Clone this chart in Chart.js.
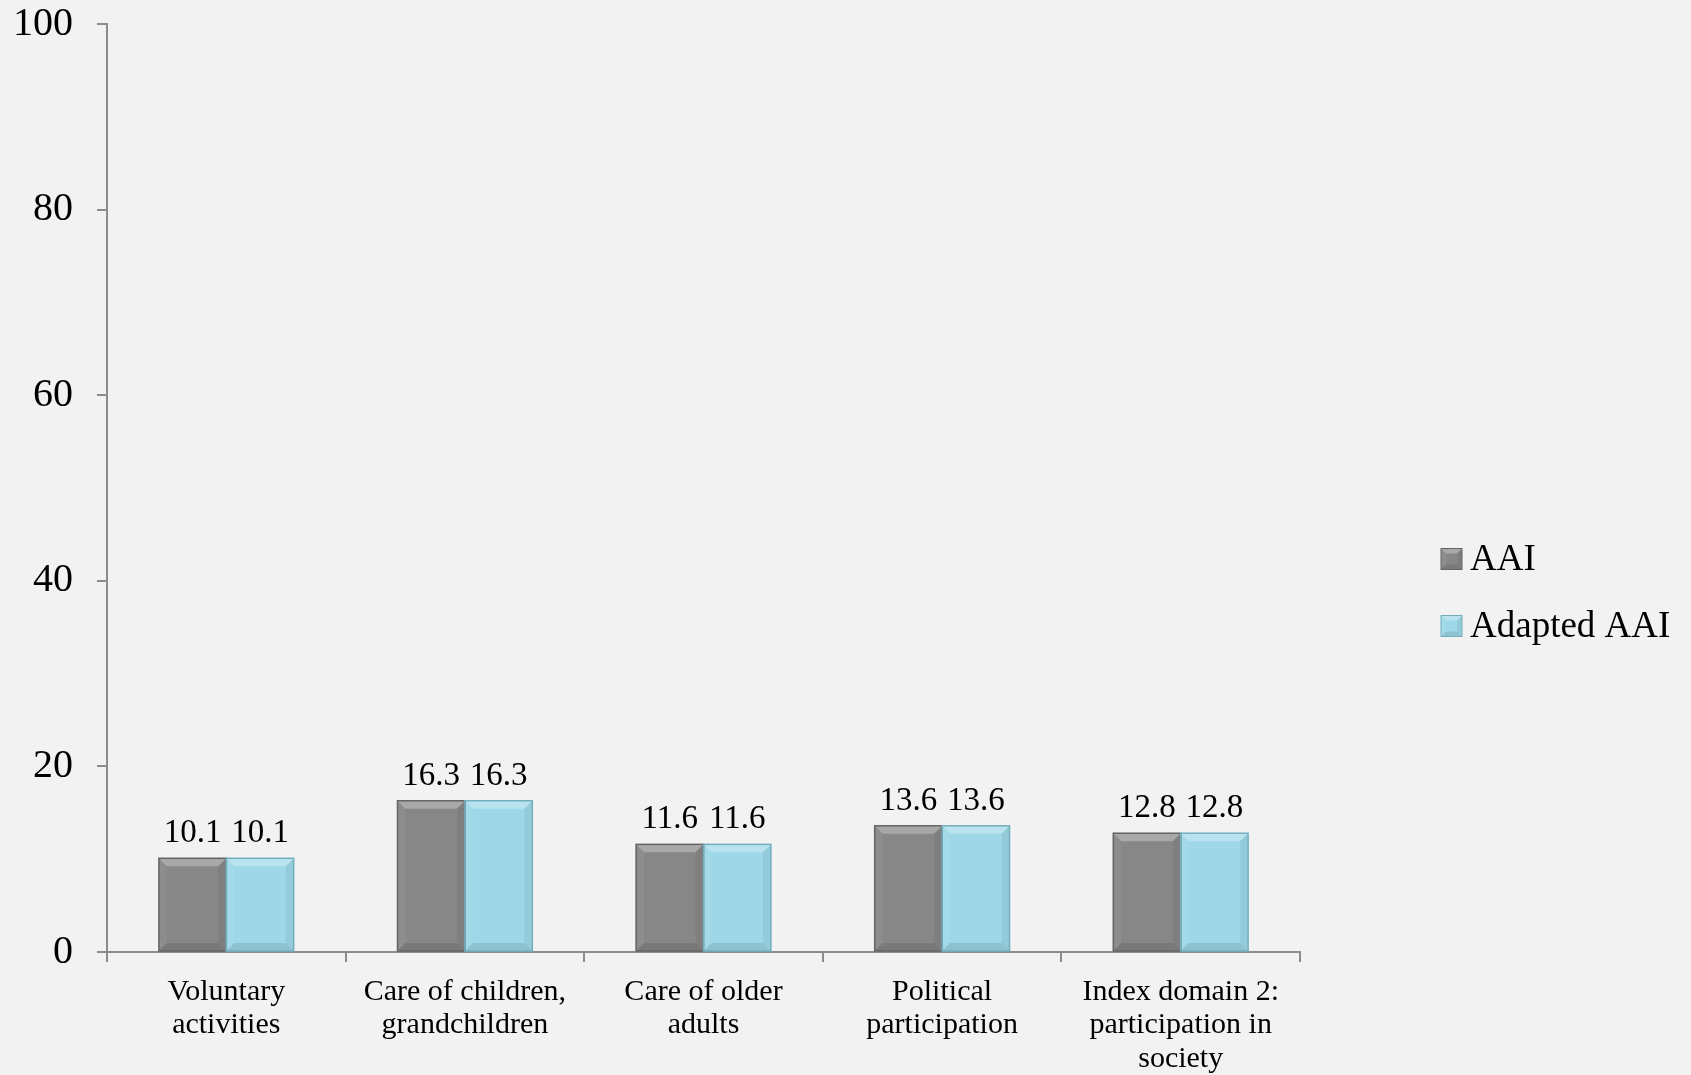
<!DOCTYPE html>
<html>
<head>
<meta charset="utf-8">
<script src="https://cdn.jsdelivr.net/npm/chart.js@4"></script>
<style>
  html, body { margin: 0; padding: 0; background: #f2f2f2; }
  #wrap { width: 1691px; height: 1075px; }
</style>
</head>
<body>
<div id="wrap"><canvas id="chart" width="1691" height="1075"></canvas></div>
<script>
// data
const categories = [
  ["Voluntary", "activities"],
  ["Care of children,", "grandchildren"],
  ["Care of older", "adults"],
  ["Political", "participation"],
  ["Index domain 2:", "participation in", "society"]
];
const seriesNames = ["AAI", "Adapted AAI"];
const aaiValues = [10.1, 16.3, 11.6, 13.6, 12.8];
const adaptedValues = [10.1, 16.3, 11.6, 13.6, 12.8];
const yMax = 100;
const yStep = 20;

const fillColors = ["#878787", "#9ed8e8"];
const edgeColors = ["#646464", "#74aebe"];
const serif = '"Liberation Serif", "DejaVu Serif", serif';
const axisGray = "#8c8c8c";

function poly(ctx, pts, color) {
  ctx.beginPath();
  ctx.moveTo(pts[0][0], pts[0][1]);
  for (let k = 1; k < pts.length; k++) ctx.lineTo(pts[k][0], pts[k][1]);
  ctx.closePath();
  ctx.fillStyle = color;
  ctx.fill();
}

function bevel(ctx, l, t, r, b, bv) {
  poly(ctx, [[l, t], [r, t], [r - bv, t + bv], [l + bv, t + bv]], "rgba(255,255,255,0.28)");
  poly(ctx, [[l, b], [r, b], [r - bv, b - bv], [l + bv, b - bv]], "rgba(0,0,0,0.10)");
  poly(ctx, [[l, t], [l + bv, t + bv], [l + bv, b - bv], [l, b]], "rgba(255,255,255,0.05)");
  poly(ctx, [[r, t], [r - bv, t + bv], [r - bv, b - bv], [r, b]], "rgba(0,0,0,0.06)");
}

// bevels + value labels on top of bars, legend on the right
const barExtras = {
  id: "barExtras",
  afterDatasetsDraw(chart) {
    const ctx = chart.ctx;
    ctx.save();
    chart.data.datasets.forEach((ds, i) => {
      const meta = chart.getDatasetMeta(i);
      meta.data.forEach((bar, j) => {
        const p = bar.getProps(["x", "y", "base", "width"], true);
        const l = p.x - p.width / 2, r = p.x + p.width / 2;
        bevel(ctx, l, p.y, r, p.base, 8);
        ctx.strokeStyle = edgeColors[i];
        ctx.lineWidth = 1.5;
        ctx.strokeRect(l, p.y, p.width, p.base - p.y);
        ctx.fillStyle = "#000";
        ctx.font = "33px " + serif;
        ctx.textAlign = "center";
        ctx.textBaseline = "alphabetic";
        ctx.fillText(ds.data[j].toFixed(1), p.x, p.y - 16);
      });
    });
    ctx.restore();
  },
  afterDraw(chart) {
    const ctx = chart.ctx;
    ctx.save();
    const boxX = 1441, box = 21, textX = 1470;
    const rowY = [559, 626];
    chart.data.datasets.forEach((ds, i) => {
      const cy = rowY[i];
      ctx.fillStyle = fillColors[i];
      ctx.fillRect(boxX, cy - box / 2, box, box);
      bevel(ctx, boxX, cy - box / 2, boxX + box, cy + box / 2, 5);
      ctx.strokeStyle = edgeColors[i];
      ctx.lineWidth = 1;
      ctx.strokeRect(boxX, cy - box / 2, box, box);
      ctx.fillStyle = "#000";
      ctx.font = "37px " + serif;
      ctx.textAlign = "left";
      ctx.textBaseline = "middle";
      ctx.fillText(ds.label, textX, cy + 1);
    });
    ctx.restore();
  }
};

new Chart(document.getElementById("chart"), {
  type: "bar",
  data: {
    labels: categories,
    datasets: [
      { label: seriesNames[0], data: aaiValues, backgroundColor: fillColors[0] },
      { label: seriesNames[1], data: adaptedValues, backgroundColor: fillColors[1] }
    ]
  },
  options: {
    responsive: false,
    animation: false,
    categoryPercentage: 0.565,
    barPercentage: 1.0,
    layout: { padding: { top: 24, right: 391, left: 0, bottom: 0 } },
    plugins: {
      legend: { display: false },
      tooltip: { enabled: false }
    },
    scales: {
      x: {
        afterFit(s) { s.height = 123; },
        grid: { drawOnChartArea: false, drawTicks: true, tickLength: 10, color: axisGray, lineWidth: 2 },
        border: { color: axisGray, width: 2 },
        ticks: {
          color: "#000",
          font: { family: serif, size: 30, lineHeight: 1.12 },
          padding: 13,
          maxRotation: 0,
          autoSkip: false
        }
      },
      y: {
        min: 0,
        max: yMax,
        afterFit(s) { s.width = 107; s.paddingTop = 0; s.paddingBottom = 0; },
        grid: { drawOnChartArea: false, drawTicks: true, tickLength: 10, color: axisGray, lineWidth: 2 },
        border: { color: axisGray, width: 2 },
        ticks: {
          stepSize: yStep,
          color: "#000",
          font: { family: serif, size: 40 },
          padding: 24
        }
      }
    }
  },
  plugins: [barExtras]
});
</script>
</body>
</html>
